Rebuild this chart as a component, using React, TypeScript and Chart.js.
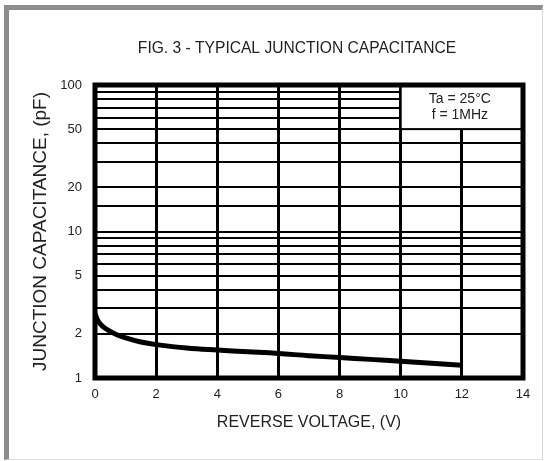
import React, { useEffect, useRef } from "react";
import { Chart, registerables } from "chart.js";

Chart.register(...registerables);

const chartTitle = "FIG. 3 - TYPICAL JUNCTION CAPACITANCE";
const xTitle = "REVERSE VOLTAGE, (V)";
const yTitle = "JUNCTION CAPACITANCE, (pF)";

const voltage = [0, 0.1, 0.25, 0.5, 0.75, 1, 1.5, 2, 3, 4, 5, 6, 7, 8, 9, 10, 11, 12];
const capacitance = [2.75, 2.45, 2.25, 2.08, 1.96, 1.88, 1.76, 1.69, 1.6, 1.55, 1.51, 1.47, 1.42, 1.38, 1.34, 1.3, 1.26, 1.22];

const xRange = [0, 14];
const xStep = 2;
const yRange = [1, 100];
const yTickLabels = [1, 2, 5, 10, 20, 50, 100];

const noteBoxX = [10, 14];
const noteBoxY = [50, 100];
const noteLines = ["Ta = 25\u00B0C", "f = 1MHz"];

const FONT = '"Liberation Sans", Arial, sans-serif';

const overlayPlugin = {
  id: "overlay",
  afterDatasetsDraw(chart: any) {
    const { ctx, chartArea: a, scales } = chart;
    const x = scales.x;
    const y = scales.y;
    ctx.save();
    const l = x.getPixelForValue(noteBoxX[0]);
    const r = x.getPixelForValue(noteBoxX[1]);
    const t = y.getPixelForValue(noteBoxY[1]);
    const b = y.getPixelForValue(noteBoxY[0]);
    ctx.fillStyle = "#fff";
    ctx.fillRect(l, t, r - l, b - t);
    ctx.strokeStyle = "#000";
    ctx.lineWidth = 2;
    ctx.strokeRect(l, t, r - l, b - t);
    ctx.fillStyle = "#222";
    ctx.font = "14px " + FONT;
    ctx.textAlign = "center";
    ctx.textBaseline = "middle";
    const cx = (l + r) / 2 - 2;
    noteLines.forEach((s, i) => ctx.fillText(s, cx, t + 14 + i * 16));
    ctx.lineWidth = 5;
    ctx.strokeRect(a.left, a.top, a.right - a.left, a.bottom - a.top);
    ctx.font = "15.6px " + FONT;
    ctx.fillText(chartTitle, 297, 49);
    ctx.restore();
  },
};

export default function App() {
  const ref = useRef<HTMLCanvasElement>(null);
  useEffect(() => {
    if (!ref.current) return;
    const chart = new Chart(ref.current, {
      type: "line",
      data: {
        datasets: [
          {
            data: voltage.map((v, i) => ({ x: v, y: capacitance[i] })),
            borderColor: "#000",
            borderWidth: 5,
            pointRadius: 0,
            tension: 0.4,
            fill: false,
          },
        ],
      },
      options: {
        animation: false,
        responsive: false,
        devicePixelRatio: 1,
        layout: { padding: { top: 85, right: 21, bottom: 0, left: 0 } },
        plugins: { legend: { display: false }, title: { display: false }, tooltip: { enabled: false } },
        scales: {
          x: {
            type: "linear",
            min: xRange[0],
            max: xRange[1],
            afterFit: (s: any) => {
              s.height = 83;
            },
            ticks: {
              stepSize: xStep,
              color: "#222",
              font: { family: FONT, size: 13 },
              padding: 9,
              maxRotation: 0,
              autoSkip: false,
            },
            grid: { color: "#000", lineWidth: 3, drawTicks: false },
            border: { display: false },
            title: {
              display: true,
              text: xTitle,
              color: "#222",
              font: { family: FONT, size: 16 },
              padding: { top: 29, bottom: 29 },
            },
          },
          y: {
            type: "logarithmic",
            min: yRange[0],
            max: yRange[1],
            afterFit: (s: any) => {
              s.width = 95;
            },
            ticks: {
              color: "#222",
              font: { family: FONT, size: 13 },
              padding: 13,
              autoSkip: false,
              callback: (v: any) => (yTickLabels.includes(Number(v)) ? String(v) : ""),
            },
            grid: { color: "#000", lineWidth: 2, drawTicks: false },
            border: { display: false },
            title: {
              display: true,
              text: yTitle,
              color: "#222",
              font: { family: FONT, size: 19 },
              padding: { top: 29, bottom: 29 },
            },
          },
        },
      },
      plugins: [overlayPlugin],
    });
    return () => chart.destroy();
  }, []);
  return (
    <div style={{ position: "fixed", left: 0, top: 0, width: 544, height: 461, background: "#fff" }}>
      <div
        style={{
          position: "absolute",
          left: 4,
          top: 5,
          width: 539,
          height: 455,
          boxSizing: "border-box",
          borderTop: "5px solid #8c8c8c",
          borderLeft: "5px solid #8c8c8c",
          borderRight: "1px solid #d8d8d8",
          borderBottom: "1px solid #e0e0e0",
        }}
      />
      <canvas ref={ref} width={544} height={461} style={{ position: "absolute", left: 0, top: 0, width: 544, height: 461 }} />
    </div>
  );
}
